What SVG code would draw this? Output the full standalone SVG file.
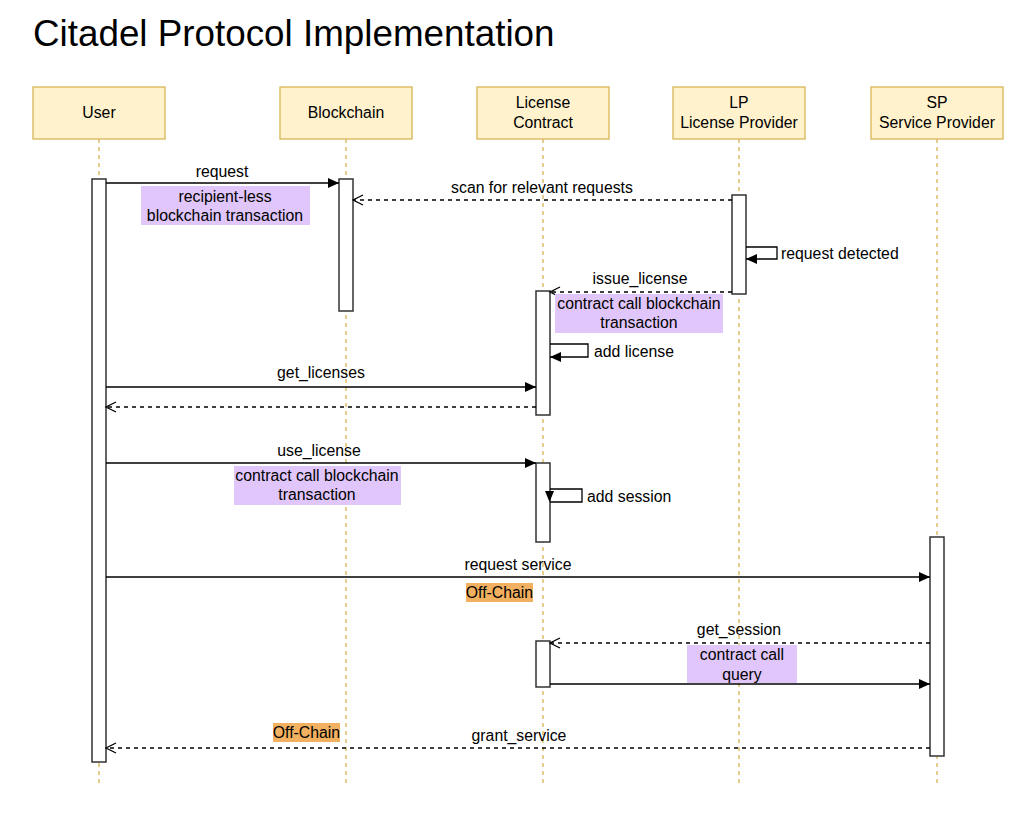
<svg xmlns="http://www.w3.org/2000/svg" width="1036" height="833" viewBox="0 0 1036 833">
<style>
text{font-family:"Liberation Sans",Arial,Helvetica,sans-serif;font-size:15.8px;fill:#000}
.c{text-anchor:middle}
.hdr{fill:#fff2cc;stroke:#d6b656;stroke-width:1.3}
.life{stroke:#d6b656;stroke-width:1.3;stroke-dasharray:4 4;fill:none}
.bar{fill:#fff;stroke:#333;stroke-width:1.5}
.msg{stroke:#000;stroke-width:1.3;fill:none}
.dash{stroke-dasharray:4 4}
.purp{fill:#e0c6fb}
.orng{fill:#f2b160}
</style>
<defs>
<marker id="blk" markerUnits="userSpaceOnUse" markerWidth="12" markerHeight="12" refX="11" refY="5" orient="auto">
<path d="M0,0 L11,5 L0,10 z" fill="#000"/>
</marker>
<marker id="opn" markerUnits="userSpaceOnUse" markerWidth="13" markerHeight="13" refX="11" refY="6" orient="auto">
<path d="M1,1 L11,6 L1,11" fill="none" stroke="#000" stroke-width="1.3"/>
</marker>
</defs>
<rect width="1036" height="833" fill="#fff"/>
<text x="33" y="46" style="font-size:36.8px">Citadel Protocol Implementation</text>

<g id="user">
<line class="life" x1="99" y1="139" x2="99" y2="785"/>
<rect class="hdr" x="33" y="87" width="132" height="52"/>
<text class="c" x="99" y="118">User</text>
<rect class="bar" x="92" y="179" width="14" height="583"/>
</g>

<g id="blockchain">
<line class="life" x1="346" y1="139" x2="346" y2="785"/>
<rect class="hdr" x="280" y="87" width="132" height="52"/>
<text class="c" x="346" y="118">Blockchain</text>
<rect class="bar" x="339" y="179" width="14" height="132"/>
</g>

<g id="license-contract">
<line class="life" x1="543" y1="139" x2="543" y2="785"/>
<rect class="hdr" x="477" y="87" width="132" height="52"/>
<text class="c" x="543" y="108">License</text>
<text class="c" x="543" y="128">Contract</text>
<rect class="bar" x="536" y="291" width="14" height="124"/>
<rect class="bar" x="536" y="463" width="14" height="79"/>
<rect class="bar" x="536" y="641" width="14" height="46"/>
</g>

<g id="lp">
<line class="life" x1="739" y1="139" x2="739" y2="785"/>
<rect class="hdr" x="673" y="87" width="132" height="52"/>
<text class="c" x="739" y="108">LP</text>
<text class="c" x="739" y="128">License Provider</text>
<rect class="bar" x="732" y="195" width="14" height="99"/>
</g>

<g id="sp">
<line class="life" x1="937" y1="139" x2="937" y2="785"/>
<rect class="hdr" x="871" y="87" width="132" height="52"/>
<text class="c" x="937" y="108">SP</text>
<text class="c" x="937" y="128">Service Provider</text>
<rect class="bar" x="930" y="537" width="14" height="219"/>
</g>

<g id="connectors">
<!-- request -->
<line class="msg" x1="106" y1="183" x2="339" y2="183" marker-end="url(#blk)"/>
<text class="c" x="222" y="177">request</text>
<rect class="purp" x="141" y="186" width="169" height="39"/>
<text class="c" x="225" y="202">recipient-less</text>
<text class="c" x="225" y="221">blockchain transaction</text>

<!-- scan -->
<line class="msg dash" x1="732" y1="200" x2="353" y2="200" marker-end="url(#opn)"/>
<text class="c" x="542" y="193">scan for relevant requests</text>

<!-- request detected -->
<path class="msg" d="M746,247 H777 V259 H746" marker-end="url(#blk)"/>
<text x="781" y="259">request detected</text>

<!-- issue_license -->
<line class="msg dash" x1="732" y1="292" x2="550" y2="292" marker-end="url(#opn)"/>
<text class="c" x="640" y="284">issue_license</text>
<rect class="purp" x="555" y="294" width="168" height="39"/>
<text class="c" x="639" y="309">contract call blockchain</text>
<text class="c" x="639" y="328">transaction</text>

<!-- add license -->
<path class="msg" d="M550,344 H588 V357 H550" marker-end="url(#blk)"/>
<text x="594" y="357">add license</text>

<!-- get_licenses -->
<line class="msg" x1="106" y1="387" x2="536" y2="387" marker-end="url(#blk)"/>
<text class="c" x="321" y="378">get_licenses</text>
<line class="msg dash" x1="536" y1="407" x2="106" y2="407" marker-end="url(#opn)"/>

<!-- use_license -->
<line class="msg" x1="106" y1="463" x2="536" y2="463" marker-end="url(#blk)"/>
<text class="c" x="319" y="456">use_license</text>
<rect class="purp" x="234" y="466" width="167" height="39"/>
<text class="c" x="317" y="481">contract call blockchain</text>
<text class="c" x="317" y="500">transaction</text>

<!-- add session -->
<path class="msg" d="M550,489 H582 V502 H550"/>
<polygon points="545,491 554,491 549.5,502" fill="#000"/>
<text x="587" y="502">add session</text>

<!-- request service -->
<line class="msg" x1="106" y1="577" x2="930" y2="577" marker-end="url(#blk)"/>
<text class="c" x="518" y="570">request service</text>
<rect class="orng" x="466" y="583" width="67" height="19"/>
<text class="c" x="499.5" y="598">Off-Chain</text>

<!-- get_session -->
<line class="msg dash" x1="930" y1="643" x2="550" y2="643" marker-end="url(#opn)"/>
<text class="c" x="739" y="635">get_session</text>
<rect class="purp" x="687" y="645" width="110" height="38"/>
<text class="c" x="742" y="660">contract call</text>
<text class="c" x="742" y="680">query</text>
<line class="msg" x1="550" y1="684" x2="930" y2="684" marker-end="url(#blk)"/>

<!-- grant_service -->
<line class="msg dash" x1="930" y1="748" x2="106" y2="748" marker-end="url(#opn)"/>
<text class="c" x="519" y="741">grant_service</text>
<rect class="orng" x="273" y="723" width="67" height="19"/>
<text class="c" x="306.5" y="738">Off-Chain</text>
</g>
</svg>
